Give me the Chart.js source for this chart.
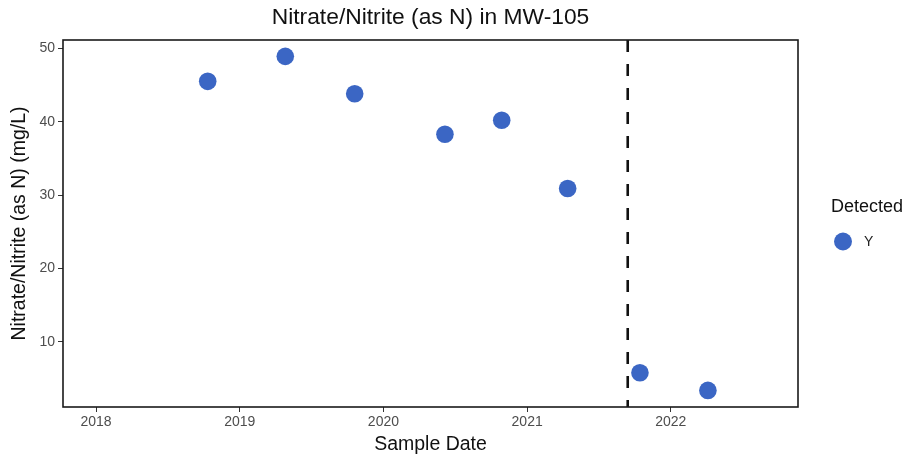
<!DOCTYPE html>
<html>
<head>
<meta charset="utf-8">
<script src="https://cdn.jsdelivr.net/npm/chart.js@4/dist/chart.umd.min.js"></script>
<style>
  html, body { margin: 0; padding: 0; background: #fff; }
  #wrap { width: 910px; height: 460px; }
</style>
</head>
<body>
<div id="wrap"><canvas id="c" width="910" height="460"></canvas></div>
<script>
// Sample dates as decimal years, with measured concentrations (mg/L)
const sampleDates = [2018.777, 2019.317, 2019.800, 2020.428, 2020.823, 2021.282, 2021.785, 2022.258];
const concentrations = [45.5, 48.9, 43.8, 38.3, 40.2, 30.9, 5.8, 3.4];
const detectedFlag = ['Y', 'Y', 'Y', 'Y', 'Y', 'Y', 'Y', 'Y'];
const yearTicks = [2018, 2019, 2020, 2021, 2022];
const concTicks = [10, 20, 30, 40, 50];
const cutoffDate = 2021.70;

const chartTitle = 'Nitrate/Nitrite (as N) in MW-105';
const legendTitle = 'Detected';
const legendItems = ['Y'];
const pointColor = '#3B66C4';
const FONT = '"Liberation Sans", Arial, sans-serif';

const points = sampleDates.map((d, i) => ({ x: d, y: concentrations[i], flag: detectedFlag[i] }));

// Title, legend, plot frame and cutoff line drawn with the chart's scales
const decorations = {
  id: 'decorations',
  beforeDatasetsDraw(chart) {
    const ctx = chart.ctx;
    const { top, bottom } = chart.chartArea;
    const cx = chart.scales.x.getPixelForValue(cutoffDate);
    ctx.save();
    ctx.strokeStyle = '#111';
    ctx.lineWidth = 2.6;
    ctx.setLineDash([12, 12]);
    ctx.beginPath();
    ctx.moveTo(cx, top);
    ctx.lineTo(cx, bottom);
    ctx.stroke();
    ctx.restore();
  },
  afterDraw(chart) {
    const ctx = chart.ctx;
    const { left, right, top, bottom } = chart.chartArea;
    ctx.save();
    // frame
    ctx.strokeStyle = '#1a1a1a';
    ctx.lineWidth = 1.6;
    ctx.strokeRect(left, top, right - left, bottom - top);
    // title
    ctx.fillStyle = '#111';
    ctx.font = '22.8px ' + FONT;
    ctx.textAlign = 'center';
    ctx.textBaseline = 'middle';
    ctx.fillText(chartTitle, (left + right) / 2, 18);
    // legend
    ctx.textAlign = 'left';
    ctx.font = '18px ' + FONT;
    ctx.fillText(legendTitle, 831, 207);
    legendItems.forEach((label, i) => {
      const y = 241.5 + i * 26;
      ctx.fillStyle = pointColor;
      ctx.beginPath();
      ctx.arc(843, y, 9, 0, Math.PI * 2);
      ctx.fill();
      ctx.fillStyle = '#222';
      ctx.font = '14px ' + FONT;
      ctx.fillText(label, 864, y + 1);
    });
    ctx.restore();
  }
};

new Chart(document.getElementById('c'), {
  type: 'scatter',
  data: {
    datasets: [{
      label: 'Y',
      data: points,
      backgroundColor: pointColor,
      borderColor: pointColor,
      pointRadius: 8.8,
      pointHoverRadius: 8.8,
      borderWidth: 0
    }]
  },
  options: {
    responsive: false,
    animation: false,
    devicePixelRatio: 1,
    layout: { padding: { left: 0, right: 112, top: 40, bottom: 0 } },
    plugins: {
      legend: { display: false },
      title: { display: false },
      tooltip: { enabled: false }
    },
    scales: {
      x: {
        type: 'linear',
        min: 2017.77,
        max: 2022.885,
        afterFit(s) { s.height = 53; },
        afterBuildTicks(s) { s.ticks = yearTicks.map(v => ({ value: v })); },
        border: { display: false },
        grid: { display: true, drawOnChartArea: false, drawTicks: true, tickLength: 5, color: '#333', lineWidth: 1 },
        ticks: {
          color: '#4d4d4d',
          font: { family: FONT, size: 14 },
          padding: 2,
          maxRotation: 0,
          callback: v => String(v)
        },
        title: {
          display: true,
          text: 'Sample Date',
          color: '#111',
          font: { family: FONT, size: 19.5 },
          padding: { top: 0, bottom: 4 }
        }
      },
      y: {
        type: 'linear',
        min: 1.14,
        max: 51.13,
        afterFit(s) { s.width = 63; },
        afterBuildTicks(s) { s.ticks = concTicks.map(v => ({ value: v })); },
        border: { display: false },
        grid: { display: true, drawOnChartArea: false, drawTicks: true, tickLength: 5, color: '#333', lineWidth: 1 },
        ticks: {
          color: '#4d4d4d',
          font: { family: FONT, size: 14 },
          padding: 3,
          callback: v => String(v)
        },
        title: {
          display: true,
          text: 'Nitrate/Nitrite (as N) (mg/L)',
          color: '#111',
          font: { family: FONT, size: 19.5 },
          padding: { top: 8, bottom: 0 }
        }
      }
    }
  },
  plugins: [decorations]
});
</script>
</body>
</html>
